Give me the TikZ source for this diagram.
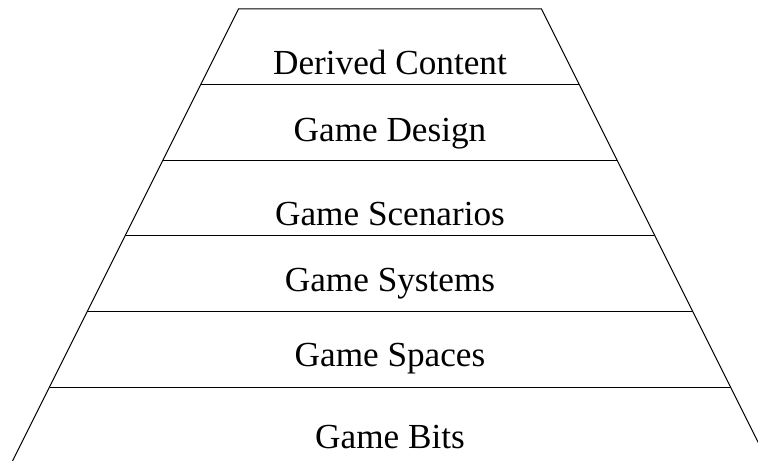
\documentclass[tikz,border=0pt]{standalone}
\usepackage{fontspec}
\setmainfont{Liberation Serif}
\begin{document}
\begin{tikzpicture}[
        x=0.5pt, y=-0.5pt,
        tier/.style = {font=\fontsize{17.6}{21}\selectfont, anchor=base, inner sep=0pt},
        divider/.style = {draw, line width=0.5pt},
        side/.style = {draw, line width=0.5pt}]
    \useasboundingbox (0,0) rectangle (758,460);
    \clip (0,0) rectangle (758,460);
    % corners of the tiers, from the top down
    \foreach \i in {0,...,6} {
        \coordinate (left\i) at ({390-151.5-37.8*\i},{9+75.6*\i});
        \coordinate (right\i) at ({390+151.5+37.8*\i},{9+75.6*\i});
    }
    \draw[side] (left6) -- (left0) -- (right0) -- (right6);
    \foreach \i in {1,...,5}
        \draw[divider] (left\i) -- (right\i);
    \node[tier] (derived) at (390,74.3) {Derived Content};
    \node[tier] (design) at (390,141) {Game Design};
    \node[tier] (scenarios) at (390,225) {Game Scenarios};
    \node[tier] (systems) at (390,291.7) {Game Systems};
    \node[tier] (spaces) at (390,366.7) {Game Spaces};
    \node[tier] (bits) at (390,448) {Game Bits};
\end{tikzpicture}
\end{document}
